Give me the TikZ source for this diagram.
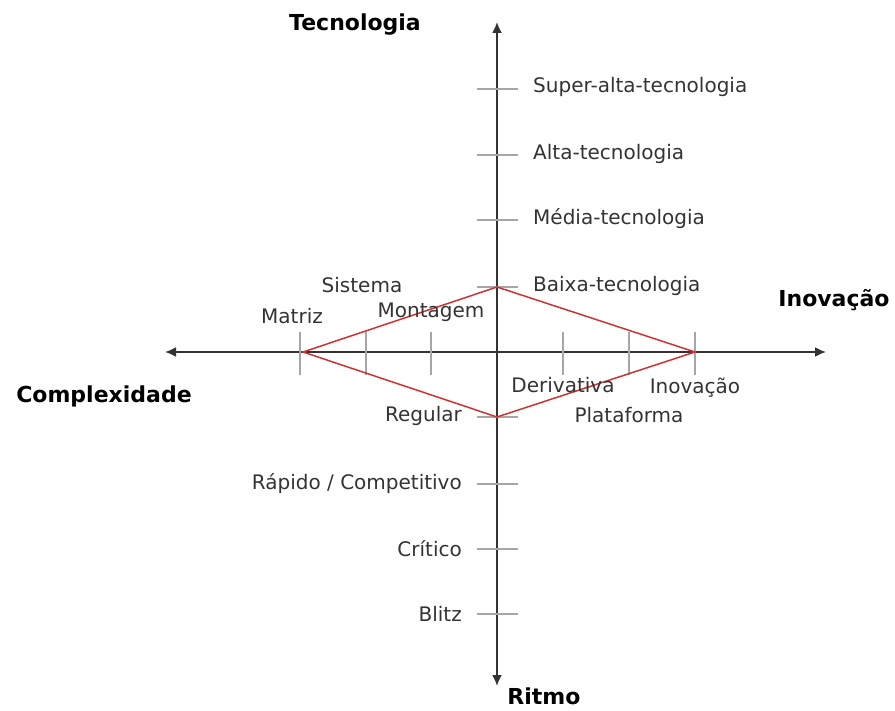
\documentclass[tikz,border=0pt]{standalone}
\usepackage{fontspec}
\setmainfont{DejaVu Sans}
\usetikzlibrary{arrows.meta}
\begin{document}
\begin{tikzpicture}[x=1pt,y=-1pt,
  axis/.style={draw=black!80,line width=1.8pt,-{Latex[length=11pt,width=10pt]}},
  tick/.style={draw=black!35,line width=1.3pt},
  diam/.style={draw=red!75!black!80,line width=1.5pt,line join=miter},
  lab/.style={font=\fontsize{20}{22}\selectfont,text=black!80,inner sep=0pt},
  big/.style={font=\fontsize{22}{24}\selectfont\bfseries,text=black,inner sep=0pt}]
\useasboundingbox (0,0) rectangle (895,711);
% axes
\coordinate (O) at (497,352);
\coordinate (L) at (165,352);
\coordinate (R) at (826,352);
\coordinate (T) at (497,22);
\coordinate (B) at (497,686);
\draw[axis] (O) -- (L);
\draw[axis] (O) -- (R);
\draw[axis] (O) -- (T);
\draw[axis] (O) -- (B);
% ticks on vertical axis
\foreach \y in {89,155,220,287,417,484,549,614}
  \draw[tick] (477,\y) -- (518,\y);
% ticks on horizontal axis
\foreach \x in {300,366,431,563,629,695}
  \draw[tick] (\x,332) -- (\x,375);
% diamond
\coordinate (dL) at (303,352);
\coordinate (dT) at (497,287);
\coordinate (dR) at (695,352);
\coordinate (dB) at (497,417);
\draw[diam] (dL) -- (dT) -- (dR) -- (dB) -- cycle;
% axis titles
\node[big] (tec) at (355,25) {Tecnologia};
\node[big] (ino) at (834,300) {Inovação};
\node[big] (com) at (104,396) {Complexidade};
\node[big] (rit) at (544,696) {Ritmo};
% technology labels
\node[lab,anchor=west] (t4) at (533,87) {Super-alta-tecnologia};
\node[lab,anchor=west] (t3) at (533,154) {Alta-tecnologia};
\node[lab,anchor=west] (t2) at (533,219) {Média-tecnologia};
\node[lab,anchor=west] (t1) at (533,286) {Baixa-tecnologia};
% complexity labels
\node[lab] (c3) at (362,285) {Sistema};
\node[lab] (c1) at (292,316) {Matriz};
\node[lab] (c2) at (431,312) {Montagem};
% novelty labels
\node[lab] (n1) at (563,385) {Derivativa};
\node[lab] (n3) at (695,388) {Inovação};
\node[lab] (n2) at (629,415) {Plataforma};
% pace labels
\node[lab,anchor=east] (p1) at (462,416) {Regular};
\node[lab,anchor=east] (p2) at (462,484) {Rápido / Competitivo};
\node[lab,anchor=east] (p3) at (462,549) {Crítico};
\node[lab,anchor=east] (p4) at (462,614) {Blitz};
\end{tikzpicture}
\end{document}
